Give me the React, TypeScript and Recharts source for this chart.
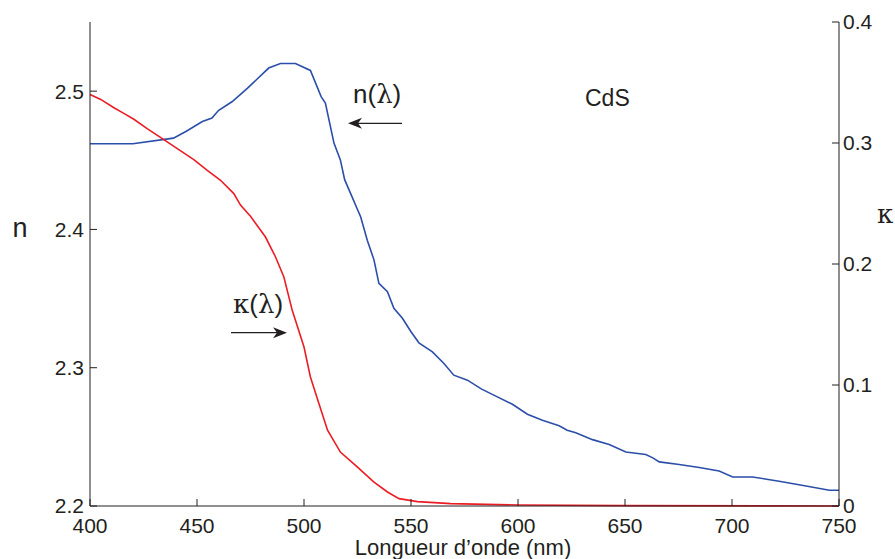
import React from 'react';
import { LineChart, Line, XAxis, YAxis } from 'recharts';

// n(λ) samples (left axis)
const nWavelengths = [400, 420, 439, 445, 452.5, 457, 460, 466.5, 473.5, 483.5, 489, 496, 503, 508, 510, 514, 517, 519, 526.5, 529.6, 532.7, 535, 539, 542, 546, 550, 553.7, 560, 565.4, 570, 576.4, 583, 588, 597.4, 604.4, 611.4, 619.2, 623, 627, 634.8, 642.6, 650.4, 659.7, 663, 666, 675.3, 684.7, 694, 700.3, 709.6, 722, 734.6, 745.5, 750];
const nValues = [2.462, 2.462, 2.466, 2.471, 2.478, 2.4805, 2.486, 2.4925, 2.502, 2.5167, 2.52, 2.52, 2.515, 2.496, 2.4914, 2.4624, 2.4503, 2.436, 2.409, 2.392, 2.378, 2.361, 2.355, 2.343, 2.3357, 2.326, 2.318, 2.3115, 2.3031, 2.2946, 2.291, 2.2845, 2.2807, 2.2736, 2.2664, 2.262, 2.258, 2.2548, 2.2529, 2.248, 2.2444, 2.239, 2.2372, 2.2348, 2.2319, 2.23, 2.2278, 2.2253, 2.221, 2.221, 2.2179, 2.2145, 2.2114, 2.2114];

// κ(λ) samples (right axis)
const kWavelengths = [400, 405, 411, 416, 420.5, 426.7, 434.5, 440.8, 448.5, 454.8, 461, 467.2, 470.4, 475, 482, 486.7, 490.6, 494.5, 500, 503, 507, 511, 517, 525, 532.7, 539, 544.4, 553, 568.6, 600, 650, 750];
const kValues = [0.34, 0.336, 0.3293, 0.3243, 0.3196, 0.3119, 0.3028, 0.2954, 0.2863, 0.2774, 0.2692, 0.2582, 0.2485, 0.2394, 0.2223, 0.2058, 0.1893, 0.1617, 0.1314, 0.1066, 0.0846, 0.0626, 0.0446, 0.0322, 0.0198, 0.0116, 0.0061, 0.0036, 0.002, 0.0008, 0.0003, 0];

const xTicks = [400, 450, 500, 550, 600, 650, 700, 750];
const nTicks = [2.2, 2.3, 2.4, 2.5];
const kTicks = [0, 0.1, 0.2, 0.3, 0.4];

const nData = nWavelengths.map((x, i) => ({ x, n: nValues[i] }));
const kData = kWavelengths.map((x, i) => ({ x, k: kValues[i] }));

const INK = '#231f20';
const SANS = '"Liberation Sans", Arial, Helvetica, sans-serif';
const SERIF = '"DejaVu Serif", "Liberation Serif", serif';

const LeftTick = (props: any) => {
  const { x, y, payload } = props;
  return (
    <g>
      <line x1={x + 6} x2={x + 13} y1={y} y2={y} stroke={INK} strokeWidth={1} />
      <text x={x} y={y} dy="0.355em" textAnchor="end" fill={INK} fontSize={21} fontFamily={SANS}>
        {String(payload.value)}
      </text>
    </g>
  );
};

const RightTick = (props: any) => {
  const { x, y, payload } = props;
  return (
    <g>
      <line x1={x - 4} x2={x - 11} y1={y} y2={y} stroke={INK} strokeWidth={1} />
      <text x={x} y={y} dy="0.355em" textAnchor="start" fill={INK} fontSize={21} fontFamily={SANS}>
        {String(payload.value)}
      </text>
    </g>
  );
};

const BottomTick = (props: any) => {
  const { x, y, payload } = props;
  return (
    <g>
      <line x1={x} x2={x} y1={y} y2={y - 7} stroke={INK} strokeWidth={1} />
      <text x={x} y={y + 27} textAnchor="middle" fill={INK} fontSize={21} fontFamily={SANS}>
        {String(payload.value)}
      </text>
    </g>
  );
};

export default function App() {
  return (
    <div style={{ position: 'absolute', left: 0, top: 0, width: 895, height: 559, background: '#fff' }}>
      <LineChart width={895} height={559} margin={{ top: 22, right: 0, bottom: 0, left: 0 }}>
        <XAxis
          dataKey="x"
          type="number"
          domain={[400, 750]}
          ticks={xTicks}
          height={53}
          tickSize={0}
          tickMargin={0}
          tick={<BottomTick />}
          axisLine={{ stroke: INK }}
          tickLine={false}
          allowDuplicatedCategory={false}
        />
        <YAxis
          yAxisId="n"
          orientation="left"
          type="number"
          domain={[2.2, 2.55]}
          ticks={nTicks}
          width={90}
          tickSize={0}
          tickMargin={6}
          tick={<LeftTick />}
          axisLine={{ stroke: INK }}
          tickLine={false}
        />
        <YAxis
          yAxisId="k"
          orientation="right"
          type="number"
          domain={[0, 0.4]}
          ticks={kTicks}
          width={56}
          tickSize={0}
          tickMargin={4}
          tick={<RightTick />}
          axisLine={{ stroke: INK }}
          tickLine={false}
        />
        <Line
          yAxisId="n"
          data={nData}
          dataKey="n"
          type="linear"
          stroke="#2b4ea8"
          strokeWidth={1.6}
          dot={false}
          isAnimationActive={false}
        />
        <Line
          yAxisId="k"
          data={kData}
          dataKey="k"
          type="linear"
          stroke="#ec1c24"
          strokeWidth={1.6}
          dot={false}
          isAnimationActive={false}
        />
      </LineChart>
      <svg width={895} height={559} style={{ position: 'absolute', left: 0, top: 0, pointerEvents: 'none' }}>
        <g fill={INK}>
          <text x={20} y={237} textAnchor="middle" fontSize={27} fontFamily={SANS}>n</text>
          <text x={885} y={223} textAnchor="middle" fontSize={26} fontFamily={SERIF}>κ</text>
          <text x={463} y={555} textAnchor="middle" fontSize={22} fontFamily={SANS}>Longueur d’onde (nm)</text>
          <text x={585} y={106} fontSize={23} fontFamily={SANS}>CdS</text>
          <text x={353} y={103} fontSize={26} fontFamily={SANS}>
            n(<tspan fontFamily={SERIF}>λ</tspan>)
          </text>
          <text x={233} y={313} fontSize={26} fontFamily={SANS}>
            <tspan fontFamily={SERIF}>κ</tspan>(<tspan fontFamily={SERIF}>λ</tspan>)
          </text>
        </g>
        <line x1={402} x2={356} y1={123.3} y2={123.3} stroke={INK} strokeWidth={1.2} />
        <path d="M348,123.3 L362,117.8 L358,123.3 L362,128.8 Z" fill={INK} />
        <line x1={231} x2={279} y1={332.7} y2={332.7} stroke={INK} strokeWidth={1.2} />
        <path d="M287,332.7 L273,327.2 L277,332.7 L273,338.2 Z" fill={INK} />
      </svg>
    </div>
  );
}
